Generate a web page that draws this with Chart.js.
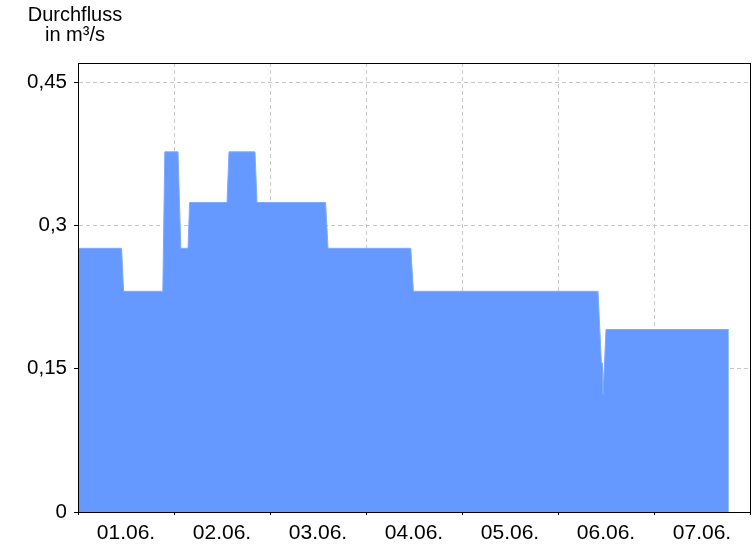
<!DOCTYPE html>
<html>
<head>
<meta charset="utf-8">
<script src="https://cdn.jsdelivr.net/npm/chart.js@4/dist/chart.umd.min.js"></script>
<style>
html,body{margin:0;padding:0;background:#fff;}
canvas{display:block;}
</style>
</head>
<body>
<canvas id="c" width="756" height="546"></canvas>
<script>
// Hours since 01.06. 00:00
const hours = [0, 10.9, 11.4, 21.2, 21.7, 25.0, 25.7, 27.5, 27.9, 37.25, 37.75, 44.25, 44.75, 61.9, 62.5, 83.2, 83.85, 130.0, 130.85, 131.1, 131.25, 132.0, 162.7];
// Durchfluss in m³/s
const flow = [0.276, 0.276, 0.231, 0.231, 0.377, 0.377, 0.276, 0.276, 0.324, 0.324, 0.377, 0.377, 0.324, 0.324, 0.276, 0.276, 0.231, 0.231, 0.156, 0.156, 0.123, 0.191, 0.191];
const dayLabels = ['01.06.', '02.06.', '03.06.', '04.06.', '05.06.', '06.06.', '07.06.'];
const yTicks = [0, 0.15, 0.3, 0.45];
const titleLines = ['Durchfluss', 'in m³/s'];

const FONT = "'Liberation Sans', Arial, sans-serif";
Chart.defaults.font.family = FONT;
Chart.defaults.font.size = 20;
Chart.defaults.color = '#000';

const points = hours.map((h, i) => ({x: h, y: flow[i]}));

const frameAndTitle = {
  id: 'frameAndTitle',
  afterDraw(chart) {
    const {ctx, chartArea: a} = chart;
    ctx.save();
    ctx.strokeStyle = '#000';
    ctx.lineWidth = 1;
    ctx.strokeRect(Math.round(a.left) + 0.5, Math.round(a.top) + 0.5, Math.round(a.right - a.left), Math.round(a.bottom - a.top));
    ctx.fillStyle = '#000';
    ctx.font = '20px ' + FONT;
    ctx.textAlign = 'center';
    ctx.textBaseline = 'alphabetic';
    ctx.fillText(titleLines[0], 75, 21);
    ctx.fillText(titleLines[1], 75, 41);
    ctx.restore();
  }
};

new Chart(document.getElementById('c'), {
  type: 'line',
  data: {
    datasets: [{
      data: points,
      fill: 'origin',
      backgroundColor: '#6699ff',
      borderColor: '#7fa9ff',
      borderWidth: 1,
      pointRadius: 0,
      tension: 0
    }]
  },
  options: {
    responsive: false,
    devicePixelRatio: 1,
    animation: false,
    layout: {padding: {left: 0, top: 63, right: 5, bottom: 0}},
    plugins: {legend: {display: false}, tooltip: {enabled: false}, title: {display: false}},
    scales: {
      x: {
        type: 'linear',
        min: 0,
        max: 168,
        z: 1,
        afterBuildTicks(scale) {
          const t = [];
          for (let h = 0; h <= 168; h += 12) t.push({value: h});
          scale.ticks = t;
        },
        afterFit(scale) { scale.height = 34; },
        grid: {
          color: (c) => (c.tick && c.tick.value % 24 === 0 && c.tick.value > 0 && c.tick.value < 168) ? '#c8c8c8' : 'rgba(0,0,0,0)',
          tickColor: (c) => (c.tick && c.tick.value % 24 === 0) ? '#000' : 'rgba(0,0,0,0)',
          tickLength: 3,
          tickBorderDash: []
        },
        border: {display: true, color: '#000', dash: [4, 3]},
        ticks: {
          autoSkip: false,
          maxRotation: 0,
          padding: 6,
          font: {size: 21},
          callback: (v) => (v % 24 === 12) ? dayLabels[Math.floor(v / 24)] : ''
        }
      },
      y: {
        min: 0,
        max: 0.47,
        z: 1,
        afterBuildTicks(scale) { scale.ticks = yTicks.map(v => ({value: v})); },
        afterFit(scale) { scale.width = 78; },
        grid: {
          color: (c) => (c.tick && c.tick.value > 0) ? '#c8c8c8' : 'rgba(0,0,0,0)',
          tickColor: '#000',
          tickLength: 4,
          tickBorderDash: []
        },
        border: {display: true, color: '#000', dash: [4, 3]},
        ticks: {
          padding: 7,
          font: {size: 20.5},
          callback: (v) => String(Math.round(v * 100) / 100).replace('.', ',')
        }
      }
    }
  },
  plugins: [frameAndTitle]
});
</script>
</body>
</html>
